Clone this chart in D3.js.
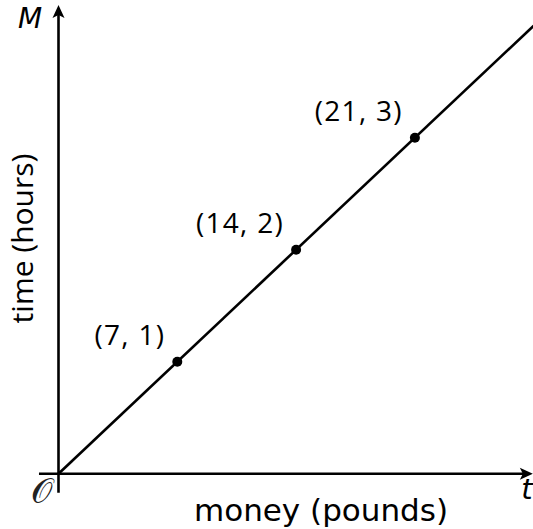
<!DOCTYPE html>
<html><head><meta charset="utf-8">
<script src="https://cdn.jsdelivr.net/npm/d3@7"></script>
<style>body{margin:0;background:#fff}svg{display:block}</style>
</head><body>
<script>
// Data
const points = [
  {x: 7, y: 1, label: "(7, 1)"},
  {x: 14, y: 2, label: "(14, 2)"},
  {x: 21, y: 3, label: "(21, 3)"}
];
const lineData = [[0, 0], [28, 4]];
const xLabel = "money (pounds)";
const yLabel = "time (hours)";
const xVar = "t";
const yVar = "M";
const originLabel = "𝒪";

const W = 533, H = 529;
const svg = d3.select("body").append("svg").attr("width", W).attr("height", H);

const x = d3.scaleLinear().domain([0, 28]).range([58.5, 533.7]);
const y = d3.scaleLinear().domain([0, 4]).range([473.7, 25.7]);

const sw = 2.6;
// x axis
svg.append("line").attr("x1", x(-1.15)).attr("x2", x(27.7)).attr("y1", y(0)).attr("y2", y(0))
  .attr("stroke", "#000").attr("stroke-width", sw);
// y axis
svg.append("line").attr("x1", x(0)).attr("x2", x(0)).attr("y1", y(-0.17)).attr("y2", y(4.13))
  .attr("stroke", "#000").attr("stroke-width", sw);
// arrowheads
const xt = x(27.95), yt = y(0);
svg.append("path").attr("d", `M${xt},${yt} L${xt-13},${yt-6} L${xt-10},${yt} L${xt-13},${yt+6} Z`).attr("fill", "#000");
const ax = x(0), ay = y(4.185);
svg.append("path").attr("d", `M${ax},${ay} L${ax-6},${ay+13} L${ax},${ay+10} L${ax+6},${ay+13} Z`).attr("fill", "#000");

// line
svg.append("path").datum(lineData)
  .attr("d", d3.line().x(d => x(d[0])).y(d => y(d[1])))
  .attr("stroke", "#000").attr("stroke-width", sw).attr("fill", "none");

// points
svg.selectAll("circle.pt").data(points).enter().append("circle")
  .attr("cx", d => x(d.x)).attr("cy", d => y(d.y)).attr("r", 5).attr("fill", "#000");

svg.selectAll("text.pl").data(points).enter().append("text")
  .attr("x", d => x(d.x) - 12).attr("y", d => y(d.y) - 17)
  .attr("text-anchor", "end")
  .attr("font-family", "'Open Sans', sans-serif").attr("font-size", 28)
  .attr("letter-spacing", 1.3)
  .text(d => d.label);

// axis titles
svg.append("text").attr("x", 321).attr("y", 521).attr("text-anchor", "middle")
  .attr("font-family", "'DejaVu Sans', Verdana, sans-serif").attr("font-size", 31)
  .text(xLabel);
svg.append("text").attr("transform", "translate(33,238.5) rotate(-90)").attr("text-anchor", "middle")
  .attr("font-family", "'Open Sans', sans-serif").attr("font-size", 30)
  .text(yLabel);

svg.append("text").attr("x", 30).attr("y", 28).attr("text-anchor", "middle")
  .attr("font-family", "'DejaVu Sans', sans-serif").attr("font-style", "italic").attr("font-size", 28)
  .text(yVar);
svg.append("text").attr("x", 527).attr("y", 499).attr("text-anchor", "middle")
  .attr("font-family", "'DejaVu Sans', sans-serif").attr("font-style", "italic").attr("font-size", 29)
  .text(xVar);
svg.append("text").attr("x", 41).attr("y", 503).attr("text-anchor", "middle")
  .attr("font-family", "'DejaVu Serif', 'DejaVu Sans', serif").attr("font-size", 34).attr("font-weight", 300)
  .attr("fill", "#222")
  .text(originLabel);
</script>
</body></html>
